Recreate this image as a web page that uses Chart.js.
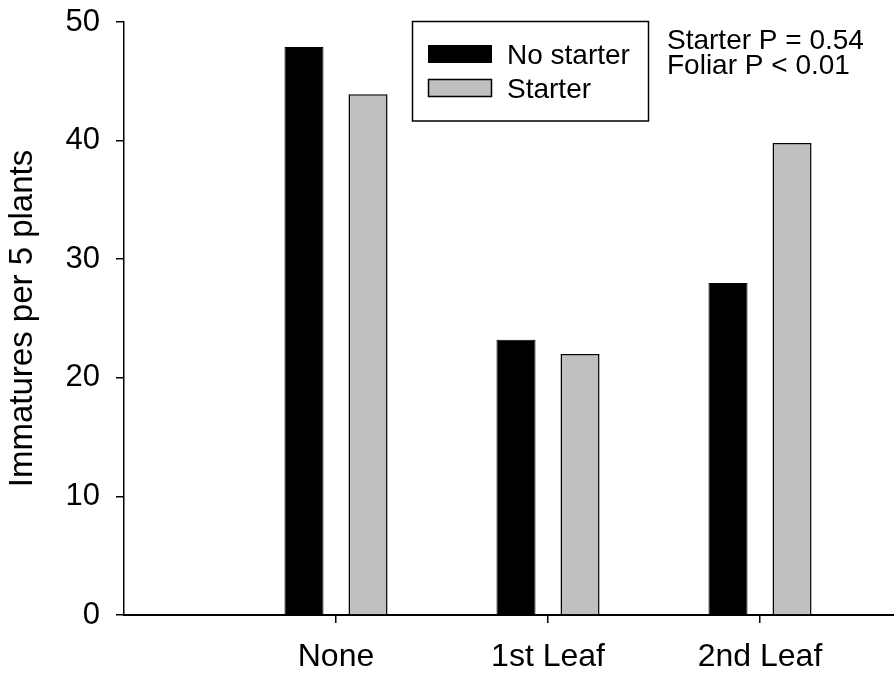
<!DOCTYPE html>
<html>
<head>
<meta charset="utf-8">
<title>Immatures per 5 plants</title>
<script src="https://cdn.jsdelivr.net/npm/chart.js@4/dist/chart.umd.min.js"></script>
<style>
  html, body { margin: 0; padding: 0; background: #fff; overflow: hidden; }
  #wrap { width: 894px; height: 678px; position: relative; }
</style>
</head>
<body>
<div id="wrap"><canvas id="c" width="894" height="678"></canvas></div>
<script>
// Foliar treatment timing on the category axis
const categories = ['None', '1st Leaf', '2nd Leaf'];
// Immatures per 5 plants, by starter treatment
const noStarter = [47.9, 23.2, 28.0];
const starter = [43.9, 22.0, 39.8];
const seriesNames = ['No starter', 'Starter'];
const yTicks = [0, 10, 20, 30, 40, 50];
const statLines = ['Starter P = 0.54', 'Foliar P < 0.01'];

const FONT = '"Liberation Sans", Arial, Helvetica, sans-serif';

// Boxed legend plus the statistics note in the upper right
const boxLegend = {
  id: 'boxLegend',
  afterDraw(chart) {
    const ctx = chart.ctx;
    const ds = chart.data.datasets;
    ctx.save();
    ctx.lineWidth = 1.5;
    ctx.strokeStyle = '#000';
    ctx.strokeRect(412.5, 21.5, 236, 99.5);
    const rows = [45, 79];
    ds.forEach((d, i) => {
      ctx.fillStyle = d.backgroundColor;
      ctx.fillRect(428, rows[i], 64, 18);
      ctx.lineWidth = d.borderWidth;
      ctx.strokeStyle = d.borderColor;
      ctx.strokeRect(428.5, rows[i] + 0.5, 63, 17);
      ctx.fillStyle = '#000';
      ctx.font = '28px ' + FONT;
      ctx.textAlign = 'left';
      ctx.textBaseline = 'alphabetic';
      ctx.fillText(d.label, 507, rows[i] + 18.5);
    });
    ctx.font = '28px ' + FONT;
    ctx.fillStyle = '#000';
    statLines.forEach((t, i) => ctx.fillText(t, 667, 48.5 + i * 25));
    ctx.restore();
  }
};

const toPoints = arr => arr.map((v, i) => ({ x: i + 1, y: v }));

new Chart(document.getElementById('c'), {
  type: 'bar',
  data: {
    datasets: [
      {
        label: seriesNames[0],
        data: toPoints(noStarter),
        backgroundColor: '#000000',
        borderColor: '#000000',
        borderWidth: 1
      },
      {
        label: seriesNames[1],
        data: toPoints(starter),
        backgroundColor: '#c0c0c0',
        borderColor: '#000000',
        borderWidth: 1.5
      }
    ]
  },
  options: {
    responsive: false,
    animation: false,
    devicePixelRatio: 1,
    categoryPercentage: 0.604,
    barPercentage: 0.61,
    layout: { padding: { top: 22, right: 0, bottom: 0, left: 0 } },
    plugins: {
      legend: { display: false },
      tooltip: { enabled: false }
    },
    scales: {
      x: {
        type: 'linear',
        min: 0,
        max: 3.632,
        offset: false,
        afterBuildTicks: s => { s.ticks = categories.map((_, i) => ({ value: i + 1 })); },
        afterFit: s => { s.height = 63; s.paddingLeft = 0; s.paddingRight = 0; },
        grid: {
          offset: false,
          drawOnChartArea: false,
          drawTicks: true,
          tickLength: 8,
          color: '#000',
          lineWidth: 1.5
        },
        border: { display: true, color: '#000', width: 2 },
        ticks: {
          autoSkip: false,
          maxRotation: 0,
          padding: 15,
          color: '#000',
          font: { family: FONT, size: 32 },
          callback: v => categories[v - 1] ?? ''
        }
      },
      y: {
        type: 'linear',
        min: 0,
        max: 50,
        afterBuildTicks: s => { s.ticks = yTicks.map(v => ({ value: v })); },
        afterFit: s => { s.width = 124; s.paddingTop = 0; s.paddingBottom = 0; },
        grid: {
          drawOnChartArea: false,
          drawTicks: true,
          tickLength: 8,
          color: '#000',
          lineWidth: 1.5
        },
        border: { display: true, color: '#000', width: 1.5 },
        ticks: {
          padding: 16,
          color: '#000',
          font: { family: FONT, size: 31 }
        },
        title: {
          display: true,
          text: 'Immatures per 5 plants',
          color: '#000',
          font: { family: FONT, size: 33 },
          padding: { top: 3, bottom: 0 }
        }
      }
    }
  },
  plugins: [boxLegend]
});
</script>
</body>
</html>
